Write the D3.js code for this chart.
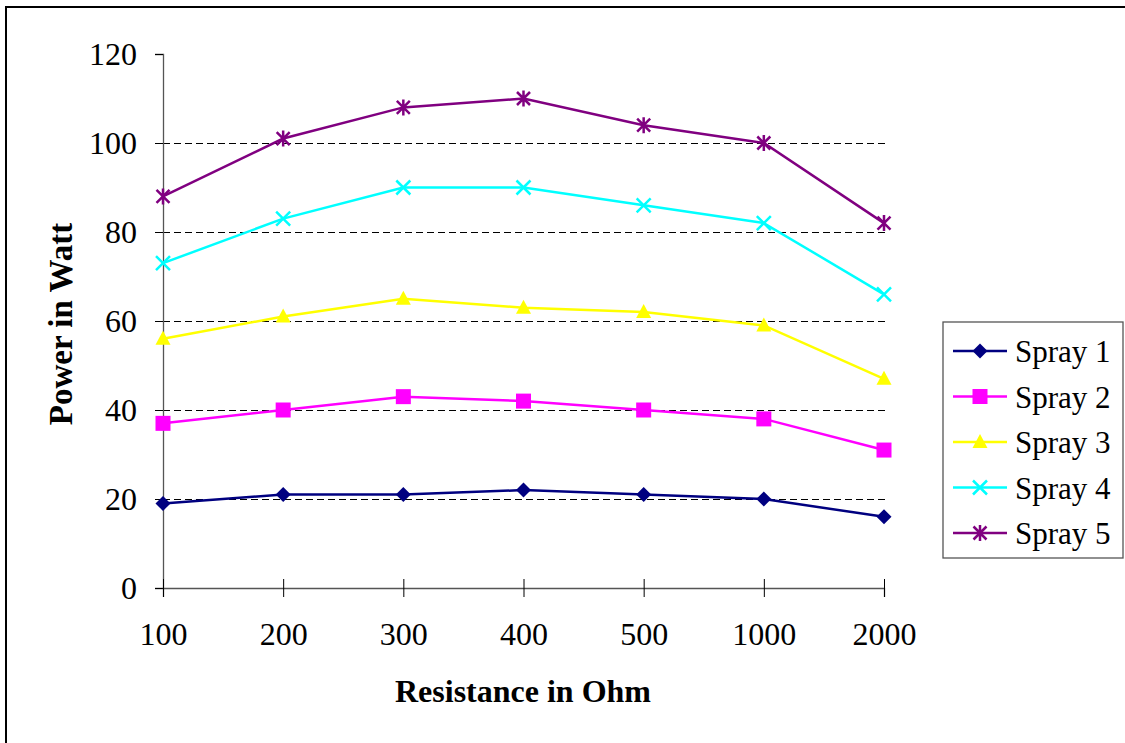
<!DOCTYPE html>
<html>
<head>
<meta charset="utf-8">
<script src="https://cdn.jsdelivr.net/npm/d3@7"></script>
<style>
  body { margin: 0; background: #fff; }
  svg { display: block; font-family: "Liberation Serif", "Times New Roman", serif; }
</style>
</head>
<body>
<svg id="chart" width="1125" height="743"></svg>
<script>
// data
const resistance = ["100", "200", "300", "400", "500", "1000", "2000"];
const seriesNames = ["Spray 1", "Spray 2", "Spray 3", "Spray 4", "Spray 5"];
const spray1 = [19, 21, 21, 22, 21, 20, 16];
const spray2 = [37, 40, 43, 42, 40, 38, 31];
const spray3 = [56, 61, 65, 63, 62, 59, 47];
const spray4 = [73, 83, 90, 90, 86, 82, 66];
const spray5 = [88, 101, 108, 110, 104, 100, 82];
const yTicks = [0, 20, 40, 60, 80, 100, 120];

const colors = ["#000080", "#FF00FF", "#FFFF00", "#00FFFF", "#800080"];
const markers = ["diamond", "square", "triangle", "x", "star"];

const series = [spray1, spray2, spray3, spray4, spray5].map((vals, i) => ({
  name: seriesNames[i], values: vals, color: colors[i], marker: markers[i]
}));

const svg = d3.select("#chart");

// outer frame (only left and top visible in picture)
svg.append("rect")
  .attr("x", 6).attr("y", 7)
  .attr("width", 1130).attr("height", 750)
  .attr("fill", "none").attr("stroke", "#000").attr("stroke-width", 2);

const x = d3.scalePoint().domain(resistance).range([163, 884]);
const y = d3.scaleLinear().domain([0, 120]).range([588, 54]);

// gridlines
svg.append("g")
  .attr("shape-rendering", "crispEdges")
  .selectAll("line")
  .data(yTicks.filter(t => t > 0 && t < 120))
  .enter().append("line")
  .attr("x1", 163).attr("x2", 885)
  .attr("y1", d => Math.round(y(d)) + 0.5).attr("y2", d => Math.round(y(d)) + 0.5)
  .attr("stroke", "#000").attr("stroke-width", 1)
  .attr("stroke-dasharray", "7,4");

// y axis
const yAxis = svg.append("g")
  .attr("transform", "translate(163,0)")
  .call(d3.axisLeft(y).tickValues(yTicks).tickSize(8).tickPadding(18));
yAxis.select(".domain").attr("stroke", "#555").attr("stroke-width", 1.3);
yAxis.selectAll(".tick line").attr("stroke", "#000");
yAxis.selectAll("text")
  .attr("font-size", 32).attr("fill", "#000")
  .attr("font-family", "Liberation Serif, serif");

// x axis: ticks cross the axis line
const xAxis = svg.append("g")
  .attr("transform", "translate(0,588)")
  .call(d3.axisBottom(x).tickSizeOuter(0).tickSize(9).tickPadding(25));
xAxis.select(".domain").attr("stroke", "#555").attr("stroke-width", 1.3);
xAxis.selectAll(".tick line").attr("y1", -9).attr("stroke", "#000");
xAxis.selectAll("text")
  .attr("font-size", 32).attr("fill", "#000")
  .attr("font-family", "Liberation Serif, serif");

// axis titles
svg.append("text")
  .attr("x", 523).attr("y", 702)
  .attr("text-anchor", "middle")
  .attr("font-size", 32).attr("font-weight", "bold")
  .text("Resistance in Ohm");

svg.append("text")
  .attr("transform", "translate(72,324) rotate(-90)")
  .attr("text-anchor", "middle")
  .attr("font-size", 33).attr("font-weight", "bold")
  .text("Power in Watt");

function drawMarker(g, type, color) {
  if (type === "diamond") {
    g.append("path").attr("d", "M0,-7.5L7.5,0L0,7.5L-7.5,0Z").attr("fill", color);
  } else if (type === "square") {
    g.append("rect").attr("x", -7.5).attr("y", -7.5).attr("width", 15).attr("height", 15).attr("fill", color);
  } else if (type === "triangle") {
    g.append("path").attr("d", "M0,-8L7.5,6L-7.5,6Z").attr("fill", color);
  } else if (type === "x") {
    g.append("path").attr("d", "M-7,-7L7,7M-7,7L7,-7")
      .attr("stroke", color).attr("stroke-width", 2.5).attr("fill", "none");
  } else if (type === "star") {
    g.append("path").attr("d", "M-6.5,-6.5L6.5,6.5M-6.5,6.5L6.5,-6.5M0,-8L0,8")
      .attr("stroke", color).attr("stroke-width", 2.5).attr("fill", "none");
  }
}

const line = d3.line()
  .x((d, i) => x(resistance[i]))
  .y(d => y(d));

const plot = svg.append("g");
series.forEach(s => {
  plot.append("path")
    .datum(s.values)
    .attr("d", line)
    .attr("fill", "none")
    .attr("stroke", s.color)
    .attr("stroke-width", 2.5);
  s.values.forEach((v, i) => {
    const g = plot.append("g")
      .attr("transform", `translate(${x(resistance[i])},${y(v)})`);
    drawMarker(g, s.marker, s.color);
  });
});

// legend
const legend = svg.append("g");
legend.append("rect")
  .attr("x", 943).attr("y", 322)
  .attr("width", 180).attr("height", 236)
  .attr("fill", "#fff").attr("stroke", "#555").attr("stroke-width", 1.3);

series.forEach((s, i) => {
  const cy = 351 + i * 45.5;
  const row = legend.append("g");
  row.append("line")
    .attr("x1", 953).attr("x2", 1007)
    .attr("y1", cy).attr("y2", cy)
    .attr("stroke", s.color).attr("stroke-width", 2.5);
  drawMarker(row.append("g").attr("transform", `translate(980,${cy})`), s.marker, s.color);
  row.append("text")
    .attr("x", 1015).attr("y", cy + 11)
    .attr("font-size", 31)
    .text(s.name);
});
</script>
</body>
</html>
